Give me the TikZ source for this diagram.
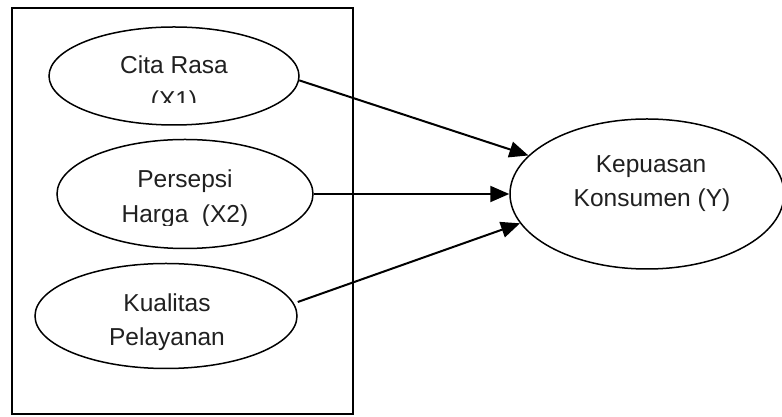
\documentclass[tikz,border=0pt]{standalone}
\usepackage{fontspec}
\setmainfont{Liberation Sans}
\usetikzlibrary{shapes.geometric,arrows.meta}
\definecolor{txt}{HTML}{202020}
\tikzset{
  var/.style={draw=black, line width=1.5pt, ellipse, inner sep=0pt},
  lbl/.style={anchor=base, inner sep=0pt, text=txt, font=\fontsize{24.5}{30}\selectfont},
  link/.style={line width=2pt, -{Triangle[length=19pt,width=16pt]}},
}
\begin{document}
\begin{tikzpicture}[x=1pt,y=1pt]
\clip (0,0) rectangle (782,417);
\fill[white] (0,0) rectangle (782,417);
\node[draw=black, line width=2pt, minimum width=341pt, minimum height=406pt, inner sep=0pt] (frame) at (182.5,206) {};
\node[var, minimum width=250pt, minimum height=98pt] (e1) at (174,341) {};
\node[var, minimum width=256pt, minimum height=109pt] (e2) at (185,223) {};
\node[var, minimum width=262pt, minimum height=105pt] (e3) at (166,101) {};
\node[var, minimum width=274pt, minimum height=150pt] (eY) at (647,223) {};
\node[lbl] (t1a) at (174,343) {Cita Rasa};
\begin{scope}
\clip (0,314) rectangle (782,417);
\node[lbl] (t1b) at (174,308) {(X1)};
\end{scope}
\node[lbl] (t2a) at (185,229) {Persepsi};
\begin{scope}
\clip (0,191) rectangle (782,417);
\node[lbl] (t2b) at (185,194) {Harga\ \ (X2)};
\end{scope}
\node[lbl] (t3a) at (167,105) {Kualitas};
\node[lbl] (t3b) at (167,71) {Pelayanan};
\node[lbl] (tYa) at (651,244) {Kepuasan};
\node[lbl] (tYb) at (652,210) {Konsumen (Y)};
\draw[link] (e1.-2) -- (eY.162);
\draw[link] (e2.east) -- (eY.west);
\draw[link] ([yshift=14pt]e3.east) -- (eY.193);
\end{tikzpicture}
\end{document}
